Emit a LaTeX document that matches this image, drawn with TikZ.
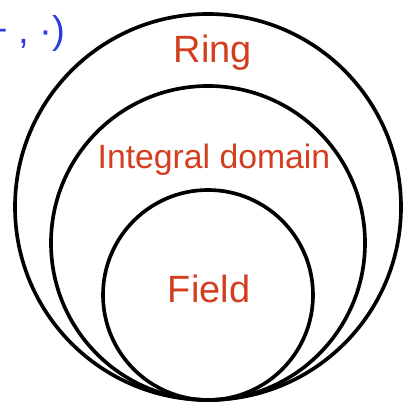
\documentclass[tikz,border=0pt]{standalone}
\usepackage{fontspec}
\setmainfont{Liberation Sans}
\usepackage{tikz}
\usetikzlibrary{positioning}
\definecolor{setred}{RGB}{210,62,30}
\definecolor{opblue}{RGB}{45,60,225}

\begin{document}
\begin{tikzpicture}[
x=0.025cm, y=0.025cm,
setline/.style={line width=2.6pt},
setname/.style={text=setred, anchor=base, inner sep=0pt, font=\fontsize{27}{30}\selectfont},
]
    \useasboundingbox (0,0) rectangle (405,406);

    % Draw the three circles, all touching at the bottom
    \coordinate (touch) at (208,6);
    \draw[setline] (touch) ++(0,193) circle [radius=193];
    \draw[setline] (touch) ++(0,157) circle [radius=157];
    \draw[setline] (touch) ++(0,105) circle [radius=105];

    % Names of the sets
    \node[setname] (ring) at (213,343) {Ring};
    \node[setname, font=\fontsize{24}{28}\selectfont] (domain) at (214,237) {Integral domain};
    \node[setname] (field) at (209,103) {Field};

    % operations, cut off at the left edge as in the slide
    \node[text=opblue, anchor=base east, inner sep=0pt, font=\fontsize{27.5}{30}\selectfont] (ops) at (66,362) {+ , ·)};

\end{tikzpicture}
\end{document}
